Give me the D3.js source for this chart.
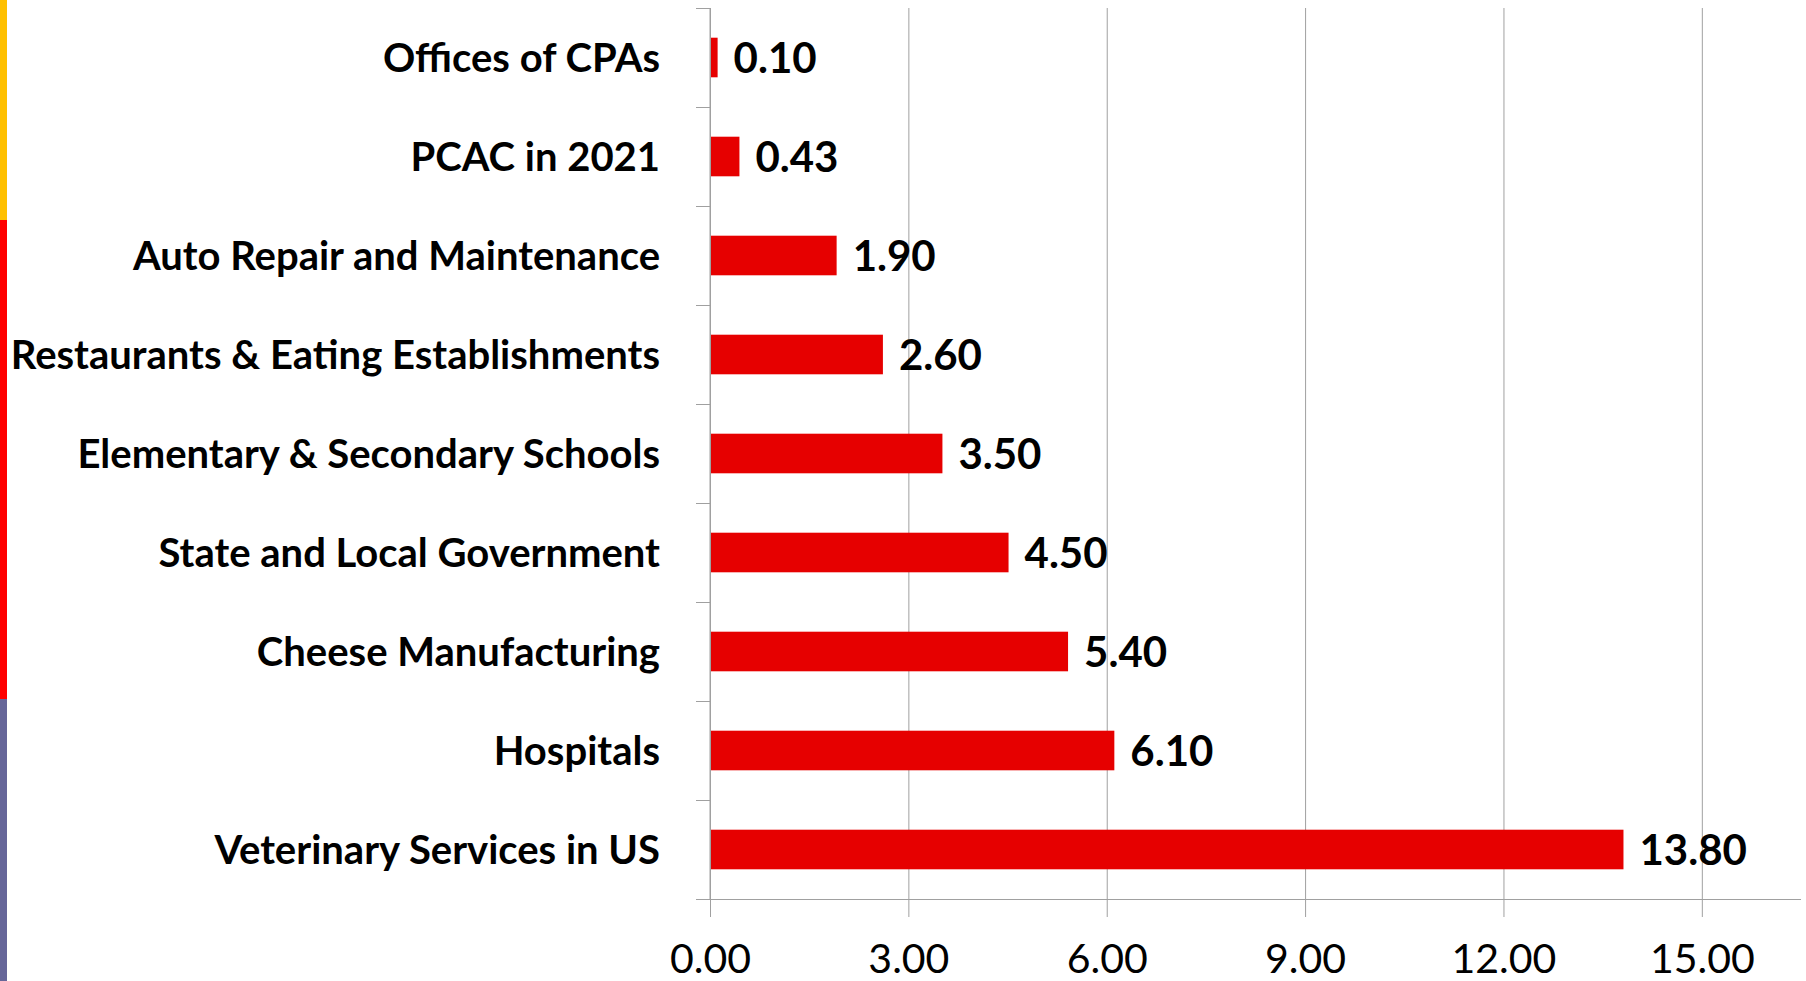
<!DOCTYPE html>
<html>
<head>
<meta charset="utf-8">
<script src="https://cdn.jsdelivr.net/npm/d3@7"></script>
<style>
  body { margin: 0; background: #fff; overflow: hidden; }
  .cat text { font-family: Lato, sans-serif; font-weight: 700; font-size: 40px; fill: #000; }
  .value { font-family: Lato, sans-serif; font-weight: 700; font-size: 42px; fill: #000; }
  .xaxis text { font-family: Lato, sans-serif; font-weight: 400; font-size: 41px; fill: #000; }
</style>
</head>
<body>
<script>
const width = 1806;
const height = 981;

const categories = [
  "Offices of CPAs",
  "PCAC in 2021",
  "Auto Repair and Maintenance",
  "Restaurants & Eating Establishments",
  "Elementary & Secondary Schools",
  "State and Local Government",
  "Cheese Manufacturing",
  "Hospitals",
  "Veterinary Services in US"
];
const values = [0.10, 0.43, 1.90, 2.60, 3.50, 4.50, 5.40, 6.10, 13.80];
const xTicks = [0, 3, 6, 9, 12, 15];

// colored strip on the left edge (slide decoration)
const stripColors = ["#ffc000", "#ff0000", "#666699"];
const stripStops = [0, 220, 699, height];

const svg = d3.select("body")
  .append("svg")
  .attr("width", width)
  .attr("height", height);

const plot = {left: 710, right: 1801, top: 8, bottom: 899};

svg.selectAll(".strip")
  .data(stripColors)
  .enter()
  .append("rect")
  .attr("class", "strip")
  .attr("x", 0)
  .attr("y", (d, i) => stripStops[i])
  .attr("width", 7)
  .attr("height", (d, i) => stripStops[i + 1] - stripStops[i])
  .attr("fill", (d) => d);

const xScale = d3.scaleLinear()
  .domain([0, 16.5])
  .range([plot.left, plot.right]);

const yScale = d3.scaleBand()
  .domain(categories)
  .range([plot.top, plot.bottom])
  .paddingInner(0.6)
  .paddingOuter(0.3);

// gridlines + bottom ticks
const xAxis = d3.axisBottom(xScale)
  .tickValues(xTicks)
  .tickFormat(d3.format(".2f"))
  .tickSizeOuter(0)
  .tickSizeInner(18)
  .tickPadding(27);

const gx = svg.append("g")
  .attr("class", "xaxis")
  .attr("transform", "translate(0," + plot.bottom + ")")
  .call(xAxis);

gx.select(".domain").remove();
gx.selectAll(".tick line")
  .attr("y1", -(plot.bottom - plot.top))
  .attr("stroke", "#a0a0a0");

svg.append("line")
  .attr("x1", plot.left - 14)
  .attr("x2", plot.right)
  .attr("y1", plot.bottom + 0.5)
  .attr("y2", plot.bottom + 0.5)
  .attr("stroke", "#a0a0a0");

// category axis line and boundary ticks
svg.append("line")
  .attr("x1", plot.left)
  .attr("x2", plot.left)
  .attr("y1", plot.top)
  .attr("y2", plot.bottom)
  .attr("stroke", "#a0a0a0");

const step = yScale.step();
svg.selectAll(".cattick")
  .data(categories)
  .enter()
  .append("line")
  .attr("class", "cattick")
  .attr("x1", plot.left - 14)
  .attr("x2", plot.left)
  .attr("y1", (d) => yScale(d) - step * 0.3 + 0.5)
  .attr("y2", (d) => yScale(d) - step * 0.3 + 0.5)
  .attr("stroke", "#a0a0a0");

const yAxis = d3.axisLeft(yScale)
  .tickSize(0)
  .tickPadding(50);

const gy = svg.append("g")
  .attr("class", "cat")
  .attr("transform", "translate(" + plot.left + ",0)")
  .call(yAxis);

gy.select(".domain").remove();
gy.selectAll("text").attr("dy", "0.35em");

const data = categories.map((c, i) => ({name: c, value: values[i]}));

svg.selectAll(".bar")
  .data(data)
  .enter()
  .append("rect")
  .attr("class", "bar")
  .attr("x", xScale(0) + 1)
  .attr("y", (d) => yScale(d.name))
  .attr("width", (d) => xScale(d.value) - xScale(0))
  .attr("height", yScale.bandwidth())
  .attr("fill", "#e60000");

svg.selectAll(".value")
  .data(data)
  .enter()
  .append("text")
  .attr("class", "value")
  .attr("x", (d) => xScale(d.value) + 17)
  .attr("y", (d) => yScale(d.name) + yScale.bandwidth() / 2)
  .attr("dy", "0.38em")
  .text((d) => d3.format(".2f")(d.value));
</script>
</body>
</html>
